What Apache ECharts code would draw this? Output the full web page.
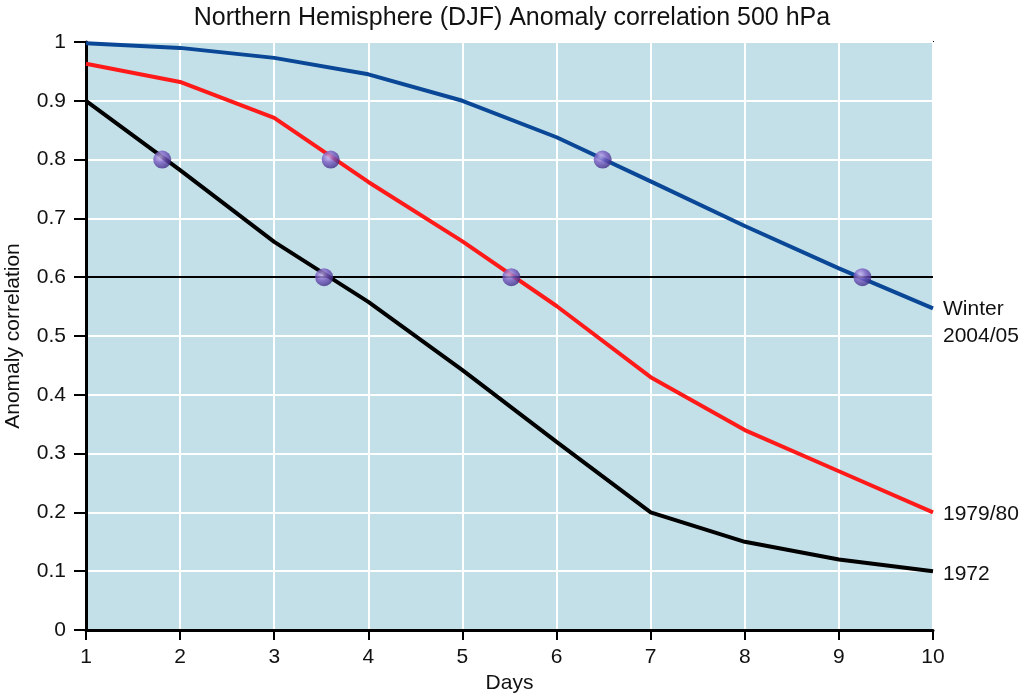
<!DOCTYPE html>
<html>
<head>
<meta charset="utf-8">
<script src="https://cdn.jsdelivr.net/npm/echarts@6/dist/echarts.min.js"></script>
<style>html,body{margin:0;padding:0;background:#fff}#c{width:1024px;height:697px}</style>
</head>
<body>
<div id="c"></div>
<script>
const days = [1, 2, 3, 4, 5, 6, 7, 8, 9, 10];
const winter2004 = [0.998, 0.99, 0.973, 0.945, 0.90, 0.838, 0.763, 0.687, 0.615, 0.547];
const y1979 = [0.963, 0.932, 0.871, 0.762, 0.661, 0.551, 0.43, 0.34, 0.27, 0.20];
const y1972 = [0.90, 0.782, 0.66, 0.558, 0.442, 0.32, 0.20, 0.15, 0.12, 0.10];
const markerPoints = [[1.81, 0.8], [3.60, 0.8], [3.53, 0.6], [5.52, 0.6], [6.49, 0.8], [9.25, 0.6]];
const yTicks = [0, 0.1, 0.2, 0.3, 0.4, 0.5, 0.6, 0.7, 0.8, 0.9, 1];
const refLevel = 0.6;

const FONT = '"Liberation Sans", Arial, Helvetica, sans-serif';
const pair = (xs, ys) => xs.map((x, i) => [x, ys[i]]);

const chart = echarts.init(document.getElementById('c'), null, {renderer: 'canvas'});
chart.setOption({
  animation: false,
  backgroundColor: '#ffffff',
  title: {
    text: 'Northern Hemisphere (DJF) Anomaly correlation 500 hPa',
    left: 'center', top: 1,
    textStyle: {fontFamily: FONT, fontSize: 25, fontWeight: 'normal', color: '#111'}
  },
  grid: {
    left: 86, right: 91, top: 42, bottom: 67,
    outerBoundsMode: 'none', containLabel: false,
    show: true, backgroundColor: '#c3e0e8', borderColor: '#000', borderWidth: 2
  },
  xAxis: {
    type: 'value', min: 1, max: 10, interval: 1,
    name: 'Days', nameLocation: 'middle', nameGap: 40,
    nameTextStyle: {fontFamily: FONT, fontSize: 21, color: '#111'},
    axisLine: {show: true, lineStyle: {color: '#000', width: 3}},
    axisTick: {show: true, inside: false, length: 10, lineStyle: {color: '#000', width: 2}},
    axisLabel: {fontFamily: FONT, fontSize: 21, color: '#111', margin: 17},
    splitLine: {show: true, lineStyle: {color: '#ffffff', width: 2}}
  },
  yAxis: {
    type: 'value', min: 0, max: 1, interval: 0.1,
    name: 'Anomaly correlation', nameLocation: 'middle', nameGap: 62,
    nameTextStyle: {fontFamily: FONT, fontSize: 21, color: '#111'},
    axisLine: {show: true, lineStyle: {color: '#000', width: 3}},
    axisTick: {show: true, inside: false, length: 12, lineStyle: {color: '#000', width: 2}},
    axisLabel: {fontFamily: FONT, fontSize: 21, color: '#111', margin: 20,
      formatter: v => { const t = yTicks.find(k => Math.abs(k - v) < 1e-6); return t === undefined ? '' : String(+t.toFixed(1)); }},
    splitLine: {show: true, lineStyle: {color: '#ffffff', width: 2}}
  },
  series: [
    {
      name: '1972', type: 'line', data: pair(days, y1972), symbol: 'none',
      lineStyle: {color: '#000000', width: 4}, z: 3,
      markLine: {
        silent: true, symbol: 'none', label: {show: false},
        lineStyle: {color: '#000', width: 2, type: 'solid'},
        data: [{yAxis: refLevel}]
      },
      endLabel: {show: true, formatter: '1972', fontFamily: FONT, fontSize: 21, color: '#111', distance: 10, offset: [0, 3]}
    },
    {
      name: '1979/80', type: 'line', data: pair(days, y1979), symbol: 'none',
      lineStyle: {color: '#ff1a1a', width: 4}, z: 3,
      endLabel: {show: true, formatter: '1979/80', fontFamily: FONT, fontSize: 21, color: '#111', distance: 10, offset: [0, 2]}
    },
    {
      name: 'Winter 2004/05', type: 'line', data: pair(days, winter2004), symbol: 'none',
      lineStyle: {color: '#0a4796', width: 4}, z: 3,
      endLabel: {show: true, formatter: 'Winter\n2004/05', fontFamily: FONT, fontSize: 21, lineHeight: 27, color: '#111', distance: 10, offset: [0, 14]}
    },
    {
      name: 'points', type: 'scatter', data: markerPoints, symbol: 'circle', symbolSize: 18, z: 5,
      itemStyle: {
        color: {type: 'radial', x: 0.38, y: 0.35, r: 0.7,
          colorStops: [{offset: 0, color: '#c9b8f0'}, {offset: 0.45, color: '#7a5cc4'}, {offset: 1, color: '#3a2780'}]}
      }
    }
  ]
});
</script>
</body>
</html>
